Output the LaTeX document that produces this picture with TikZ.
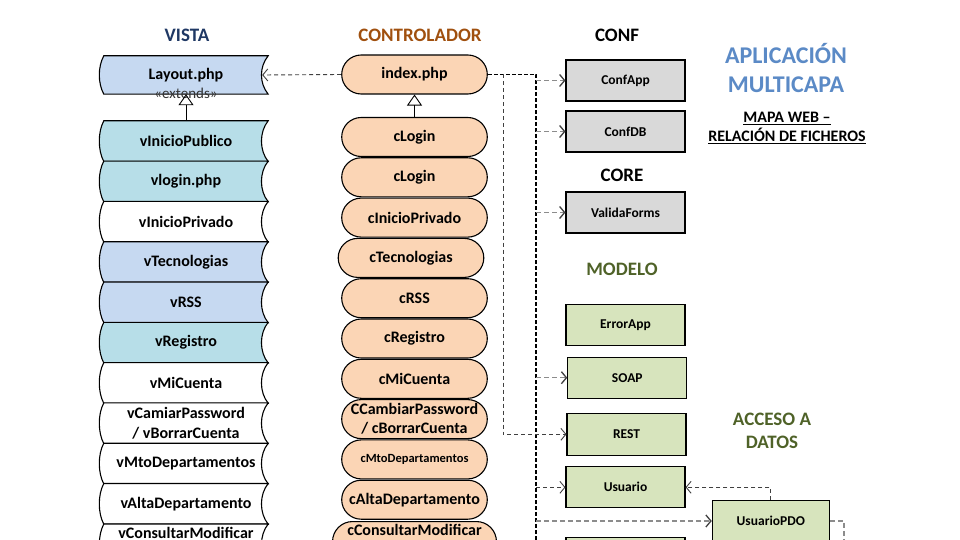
\documentclass[tikz,border=0pt]{standalone}
\usepackage{fontspec}
\setmainfont{Carlito}
\usetikzlibrary{arrows.meta,shapes.misc,backgrounds}

\definecolor{azulvista}{HTML}{C6D9F1}
\definecolor{cianvista}{HTML}{B7DEE8}
\definecolor{melocoton}{HTML}{FBD5B5}
\definecolor{grisconf}{HTML}{D9D9D9}
\definecolor{verdemodelo}{HTML}{D7E4BD}
\definecolor{tituloazul}{HTML}{1F3864}
\definecolor{titulonaranja}{HTML}{A0500F}
\definecolor{tituloverde}{HTML}{4F6228}
\definecolor{tituloapp}{HTML}{5B8AC6}

% fondo de las vistas (forma de datos almacenados)
\newcommand{\fondovista}[2]{%
  \draw[line width=1.1pt, fill=#2] (#1.north west) -- (#1.north east)
    .. controls ([xshift=-9pt,yshift=-11pt]#1.north east) and ([xshift=-9pt,yshift=11pt]#1.south east) .. (#1.south east)
    -- (#1.south west)
    .. controls ([xshift=-6pt,yshift=11pt]#1.south west) and ([xshift=-6pt,yshift=-11pt]#1.north west) .. (#1.north west)
    -- cycle;}

\begin{document}
\begin{tikzpicture}[x=1pt, y=1pt,
  vista/.style={minimum width=164pt, minimum height=40.3pt, inner sep=1pt, align=center,
    font=\bfseries\fontsize{16}{20}\selectfont},
  ctrl/.style={rounded rectangle, draw, line width=1.1pt, fill=melocoton, minimum width=147.6pt,
    minimum height=39pt, inner sep=1pt, align=center, font=\bfseries\fontsize{16}{19}\selectfont},
  caja/.style={rectangle, draw, line width=1.1pt, minimum width=119pt, minimum height=41pt,
    font=\bfseries\fontsize{13.5}{16}\selectfont},
  conf/.style={caja, fill=grisconf},
  modelo/.style={caja, fill=verdemodelo},
  titulo/.style={font=\bfseries\fontsize{19}{23}\selectfont, align=center},
  estereotipo/.style={font=\fontsize{15}{17}\selectfont, text=black!80},
  punta/.style={-{Straight Barb[length=5pt,width=12pt,color=black!75]}},
  dep/.style={draw=black!45, line width=1.3pt, dash pattern=on 5pt off 3pt},
  depos/.style={draw=black!75, line width=0.9pt, dash pattern=on 4pt off 3pt},
  bus/.style={draw=black, line width=1.4pt, dash pattern=on 4pt off 2pt},
  hereda/.style={line width=0.9pt, -{Triangle[open,length=11pt,width=15pt]}}]
\useasboundingbox (0,0) rectangle (960,-540);

% titulos
\node[titulo, text=tituloazul] (tvista) at (187,-35) {VISTA};
\node[titulo, text=titulonaranja] (tctrl) at (420,-35) {CONTROLADOR};
\node[titulo] (tconf) at (617,-35) {CONF};
\node[titulo] (tcore) at (622,-175) {CORE};
\node[titulo, text=tituloverde] (tmodelo) at (622,-269) {MODELO};
\node[titulo, text=tituloverde] (tacceso) at (772,-431) {ACCESO A\\DATOS};
\node[font=\bfseries\fontsize{24}{29}\selectfont, align=center, text=tituloapp] (tapp) at (786,-68) {APLICACIÓN\\MULTICAPA};
\node[font=\bfseries\fontsize{16}{19}\selectfont, align=center] (tmapa) at (787,-128)
  {\underline{MAPA WEB –}\\\underline{RELACIÓN DE FICHEROS}};

% vistas
\node[vista, minimum height=38pt] (layout) at (186,-75) {Layout.php};
\node[vista] (vip) at (186,-141.15) {vInicioPublico};
\node[vista] (vlogin) at (186,-181.45) {vlogin.php};
\node[vista] (vipriv) at (186,-221.75) {vInicioPrivado};
\node[vista] (vtec) at (186,-262.05) {vTecnologias};
\node[vista] (vrss) at (186,-302.35) {vRSS};
\node[vista] (vreg) at (186,-342.65) {vRegistro};
\node[vista] (vcuenta) at (186,-382.95) {vMiCuenta};
\node[vista] (vpass) at (186,-423.25) {vCamiarPassword\\/ vBorrarCuenta};
\node[vista] (vmto) at (186,-463.55) {vMtoDepartamentos};
\node[vista] (valta) at (186,-503.85) {vAltaDepartamento};
\node[vista, anchor=north, text height=13pt, text depth=26pt] (vcons) at (186,-524) {vConsultarModificar};
\node[estereotipo] (extiende) at (186,-93) {«extends»};

% controladores
\node[ctrl] (index) at (414.5,-74.5) {index.php};
\node[ctrl] (clogin) at (414.5,-137) {cLogin};
\node[ctrl] (clogindos) at (414.5,-177.3) {cLogin};
\node[ctrl] (cipriv) at (414.5,-217.6) {cInicioPrivado};
\node[ctrl] (ctec) at (411,-257.9) {cTecnologias};
\node[ctrl] (crss) at (414.5,-298.2) {cRSS};
\node[ctrl] (creg) at (414.5,-338.5) {cRegistro};
\node[ctrl] (ccuenta) at (414.5,-378.8) {cMiCuenta};
\node[ctrl] (cpass) at (414.5,-419.1) {CCambiarPassword\\/ cBorrarCuenta};
\node[ctrl, font=\bfseries\fontsize{12.5}{15}\selectfont] (cmto) at (414.5,-459.4) {cMtoDepartamentos};
\node[ctrl] (calta) at (414.5,-499.7) {cAltaDepartamento};
\node[ctrl, anchor=north, text height=13pt, text depth=25pt] (ccons) at (414.5,-521) {cConsultarModificar};

% conf, core, modelo y acceso a datos
\node[conf] (confapp) at (625.5,-80.5) {ConfApp};
\node[conf] (confdb) at (625.5,-131.5) {ConfDB};
\node[conf] (valida) at (625.5,-212.5) {ValidaForms};
\node[modelo] (errorapp) at (625.5,-325) {ErrorApp};
\node[modelo] (soap) at (627.3,-377.7) {SOAP};
\node[modelo, minimum height=42pt] (rest) at (626.5,-434.3) {REST};
\node[modelo] (usuario) at (625.5,-487.3) {Usuario};
\node[modelo, minimum width=117pt] (upd) at (770.8,-521) {UsuarioPDO};
\node[modelo] (modelobajo) at (625.5,-558) {};

\coordinate (bus) at (536,-74.5);
\coordinate (busfin) at (536,-548);
\coordinate (busrest) at (503,-74.5);
\coordinate (pdofin) at (844,-548);

\begin{scope}[on background layer]
\fondovista{layout}{azulvista}
\fondovista{vip}{cianvista}
\fondovista{vlogin}{cianvista}
\fondovista{vipriv}{white}
\fondovista{vtec}{azulvista}
\fondovista{vrss}{azulvista}
\fondovista{vreg}{cianvista}
\fondovista{vcuenta}{white}
\fondovista{vpass}{white}
\fondovista{vmto}{white}
\fondovista{valta}{white}
\fondovista{vcons}{white}
\end{scope}

% relaciones
\draw[depos, punta] (index.west) -- ([xshift=-6pt]layout.east);
\draw[hereda] (vip.north) -- (layout.south);
\draw[hereda] (clogin.north) -- (index.south);
\draw[bus] (index.east) -- (bus) -- (busfin);
\draw[depos, punta] (busrest) |- (rest.west);
\draw[dep, punta] (bus |- confapp.west) -- (confapp.west);
\draw[dep, punta] (bus |- confdb.west) -- (confdb.west);
\draw[dep, punta] (bus |- valida.west) -- (valida.west);
\draw[dep, punta] (bus |- soap.west) -- (soap.west);
\draw[depos, punta] (bus |- usuario.west) -- (usuario.west);
\draw[dep, punta] (bus |- upd.west) -- (upd.west);
\draw[depos, punta] (upd.north) |- (usuario.east);
\draw[dep] (upd.east) -| (pdofin);
\end{tikzpicture}
\end{document}
